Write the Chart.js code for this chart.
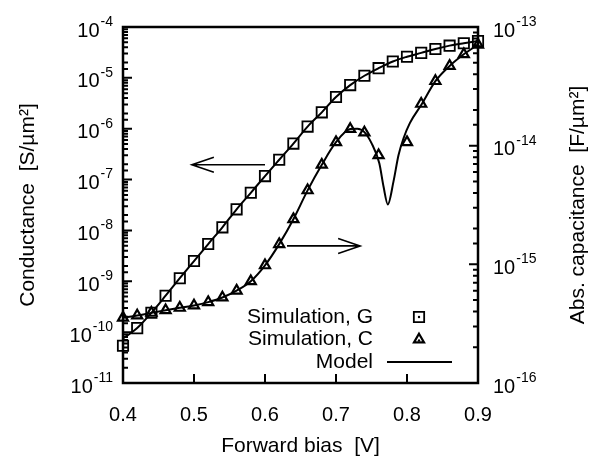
<!DOCTYPE html>
<html>
<head>
<meta charset="utf-8">
<script src="https://cdn.jsdelivr.net/npm/chart.js@4.4.1/dist/chart.umd.min.js"></script>
<style>
  body { margin: 0; background: #fff; }
  #wrap { width: 592px; height: 462px; }
</style>
</head>
<body>
<div id="wrap"><canvas id="chart" width="592" height="462"></canvas></div>
<script>
// forward bias points of the simulation (V)
const biasG = [0.40, 0.42, 0.44, 0.46, 0.48, 0.50, 0.52, 0.54, 0.56, 0.58, 0.60, 0.62, 0.64,
               0.66, 0.68, 0.70, 0.72, 0.74, 0.76, 0.78, 0.80, 0.82, 0.84, 0.86, 0.88, 0.90];
// conductance, S/um^2
const simG = [5.4e-11, 1.2e-10, 2.4e-10, 5.2e-10, 1.15e-9, 2.5e-9, 5.4e-9, 1.15e-8, 2.6e-8,
              5.5e-8, 1.17e-7, 2.45e-7, 5.1e-7, 1.1e-6, 2.1e-6, 4.2e-6, 7.2e-6, 1.1e-5,
              1.55e-5, 2.1e-5, 2.6e-5, 3.1e-5, 3.7e-5, 4.3e-5, 4.8e-5, 5.3e-5];
const modelG = [7.5e-11, 1.2e-10, 2.4e-10, 5.2e-10, 1.15e-9, 2.5e-9, 5.4e-9, 1.15e-8, 2.6e-8,
                5.5e-8, 1.17e-7, 2.45e-7, 5.1e-7, 1.1e-6, 2.1e-6, 4.2e-6, 7.2e-6, 1.1e-5,
                1.55e-5, 2.1e-5, 2.6e-5, 3.1e-5, 3.7e-5, 4.3e-5, 4.8e-5, 5.3e-5];

// capacitance (no simulated point at 0.78)
const biasC = [0.40, 0.42, 0.44, 0.46, 0.48, 0.50, 0.52, 0.54, 0.56, 0.58, 0.60, 0.62, 0.64,
               0.66, 0.68, 0.70, 0.72, 0.74, 0.76, 0.80, 0.82, 0.84, 0.86, 0.88, 0.90];
const simC = [3.55e-16, 3.7e-16, 3.9e-16, 4.1e-16, 4.3e-16, 4.5e-16, 4.8e-16, 5.25e-16, 6.0e-16,
              7.2e-16, 9.8e-16, 1.48e-15, 2.4e-15, 4.2e-15, 6.9e-15, 1.07e-14, 1.38e-14, 1.29e-14,
              8.3e-15, 1.07e-14, 2.25e-14, 3.5e-14, 4.7e-14, 5.9e-14, 7.1e-14];
const biasModelC = [0.40, 0.42, 0.44, 0.46, 0.48, 0.50, 0.52, 0.54, 0.56, 0.58, 0.60, 0.62, 0.64,
                    0.66, 0.68, 0.70, 0.72, 0.73, 0.74, 0.75, 0.761, 0.767, 0.773, 0.781, 0.788,
                    0.795, 0.804, 0.82, 0.84, 0.86, 0.88, 0.90];
const modelC = [3.55e-16, 3.7e-16, 3.9e-16, 4.1e-16, 4.3e-16, 4.5e-16, 4.8e-16, 5.25e-16, 6.0e-16,
                7.2e-16, 9.8e-16, 1.48e-15, 2.4e-15, 4.2e-15, 6.9e-15, 1.07e-14, 1.38e-14, 1.39e-14,
                1.3e-14, 1.05e-14, 7.1e-15, 4.5e-15, 3.2e-15, 5.0e-15, 8.3e-15, 1.15e-14, 1.55e-14,
                2.2e-14, 3.5e-14, 4.7e-14, 5.9e-14, 7.1e-14];

const xTicks = [0.4, 0.5, 0.6, 0.7, 0.8, 0.9];
const gDecades = [1e-11, 1e-10, 1e-9, 1e-8, 1e-7, 1e-6, 1e-5, 1e-4];
const cDecades = [1e-16, 1e-15, 1e-14, 1e-13];

// arrows telling which axis each curve belongs to (data coords)
const arrows = [
  { axis: 'yG', x0: 0.600, x1: 0.497, y: 1.95e-7 },
  { axis: 'yC', x0: 0.631, x1: 0.734, y: 1.43e-15 }
];

const FONT = "'Liberation Sans', Arial, Helvetica, sans-serif";
Chart.defaults.color = '#000';
Chart.defaults.font.family = FONT;

function isDecade(v) {
  const l = Math.log10(v);
  return Math.abs(l - Math.round(l)) < 1e-6;
}
const pts = (xs, ys) => xs.map((x, i) => ({ x: x, y: ys[i] }));

// box frame + inward tick marks
const frameTicks = {
  id: 'frameTicks',
  beforeDatasetsDraw(chart) {
    const { ctx, chartArea: a, scales } = chart;
    ctx.save();
    ctx.strokeStyle = '#000';
    ctx.lineWidth = 2.5;
    ctx.strokeRect(a.left, a.top, a.right - a.left, a.bottom - a.top);
    ctx.lineWidth = 2;
    ctx.beginPath();
    xTicks.forEach(v => {
      const px = scales.x.getPixelForValue(v);
      ctx.moveTo(px, a.bottom); ctx.lineTo(px, a.bottom - 9);
    });
    scales.yG.ticks.forEach(t => {
      const py = scales.yG.getPixelForValue(t.value);
      ctx.moveTo(a.left, py); ctx.lineTo(a.left + (isDecade(t.value) ? 9 : 5), py);
    });
    scales.yC.ticks.forEach(t => {
      const py = scales.yC.getPixelForValue(t.value);
      ctx.moveTo(a.right, py); ctx.lineTo(a.right - (isDecade(t.value) ? 9 : 5), py);
    });
    ctx.stroke();
    ctx.restore();
  }
};

// "10" with raised exponent, like the original
function powerLabel(ctx, v, x, y, side) {
  const exp = String(Math.round(Math.log10(v)));
  ctx.font = '20px ' + FONT;
  const wBase = ctx.measureText('10').width;
  ctx.font = '14px ' + FONT;
  const wExp = ctx.measureText(exp).width + 1;
  const x0 = side === 'left' ? x - wBase - wExp : x;
  ctx.textAlign = 'left';
  ctx.textBaseline = 'middle';
  ctx.font = '20px ' + FONT;
  ctx.fillText('10', x0, y + 4);
  ctx.font = '14px ' + FONT;
  ctx.fillText(exp, x0 + wBase + 1, y - 5);
}

function drawArrow(ctx, x0, x1, y) {
  const dir = Math.sign(x1 - x0);
  ctx.beginPath();
  ctx.moveTo(x0, y); ctx.lineTo(x1, y);
  ctx.moveTo(x1 - dir * 22, y - 7.5); ctx.lineTo(x1, y); ctx.lineTo(x1 - dir * 22, y + 7.5);
  ctx.stroke();
}

const extras = {
  id: 'extras',
  afterDraw(chart) {
    const { ctx, chartArea: a, scales } = chart;
    ctx.save();
    ctx.fillStyle = '#000';
    gDecades.forEach(v => powerLabel(ctx, v, a.left - 10, scales.yG.getPixelForValue(v), 'left'));
    cDecades.forEach(v => powerLabel(ctx, v, a.right + 15, scales.yC.getPixelForValue(v), 'right'));

    // right axis title reads bottom-to-top in the original
    ctx.save();
    ctx.translate(578, (a.top + a.bottom) / 2);
    ctx.rotate(-Math.PI / 2);
    ctx.font = '21px ' + FONT;
    ctx.textAlign = 'center';
    ctx.textBaseline = 'middle';
    ctx.fillText(chart.options.scales.yC.title.text, 0, 0);
    ctx.restore();

    ctx.strokeStyle = '#000';
    ctx.lineWidth = 1.6;
    arrows.forEach(ar => {
      const y = scales[ar.axis].getPixelForValue(ar.y);
      drawArrow(ctx, scales.x.getPixelForValue(ar.x0), scales.x.getPixelForValue(ar.x1), y);
    });

    // legend: text right aligned, symbol on the right
    const ds = chart.data.datasets;
    const items = [ds[0], ds[1], ds[2]];
    const textRight = a.right - 105;
    const symX = a.right - 59;
    items.forEach((d, i) => {
      const y = a.bottom - 66 + i * 22.5;
      ctx.font = '21px ' + FONT;
      ctx.fillStyle = '#000';
      ctx.textAlign = 'right';
      ctx.textBaseline = 'middle';
      ctx.fillText(d.label, textRight, y);
      if (d.showLine === false) {
        ctx.fillStyle = 'rgba(0,0,0,0)';
        ctx.strokeStyle = '#000';
        ctx.lineWidth = d.pointBorderWidth;
        Chart.helpers.drawPoint(ctx, {
          pointStyle: d.pointStyle, radius: d.pointRadius, borderWidth: d.pointBorderWidth
        }, symX, y);
        ctx.fillStyle = '#000';
        ctx.beginPath();
        ctx.arc(symX, y + (d.pointStyle === 'triangle' ? 1 : 0), 1.2, 0, Math.PI * 2);
        ctx.fill();
      } else {
        ctx.lineWidth = d.borderWidth;
        ctx.beginPath();
        ctx.moveTo(symX - 32, y); ctx.lineTo(symX + 33, y);
        ctx.stroke();
      }
    });
    ctx.restore();
  }
};

const tickFont = { family: FONT, size: 20 };
const titleFont = { family: FONT, size: 21 };

new Chart(document.getElementById('chart'), {
  type: 'line',
  data: {
    datasets: [
      {
        label: 'Simulation, G', yAxisID: 'yG', data: pts(biasG, simG),
        showLine: false, pointStyle: 'rect', pointRadius: 7.3, pointBorderWidth: 1.8,
        borderColor: '#000', backgroundColor: 'rgba(0,0,0,0)', clip: false, order: 1
      },
      {
        label: 'Simulation, C', yAxisID: 'yC', data: pts(biasC, simC),
        showLine: false, pointStyle: 'triangle', pointRadius: 5.8, pointBorderWidth: 2.2,
        borderColor: '#000', backgroundColor: 'rgba(0,0,0,0)', clip: false, order: 1
      },
      {
        label: 'Model', yAxisID: 'yG', data: pts(biasG, modelG),
        borderColor: '#000', borderWidth: 2, pointRadius: 0,
        cubicInterpolationMode: 'monotone', order: 2
      },
      {
        label: 'Model C', yAxisID: 'yC', data: pts(biasModelC, modelC),
        borderColor: '#000', borderWidth: 2, pointRadius: 0,
        cubicInterpolationMode: 'monotone', order: 2
      }
    ]
  },
  options: {
    responsive: false,
    animation: false,
    devicePixelRatio: 1,
    layout: { padding: { top: 27, left: 0, right: 0, bottom: 0 } },
    plugins: { legend: { display: false }, tooltip: { enabled: false } },
    scales: {
      x: {
        type: 'linear', position: 'bottom', min: 0.4, max: 0.9,
        afterBuildTicks: s => { s.ticks = xTicks.map(v => ({ value: v })); },
        ticks: { callback: v => Number(v).toFixed(1), font: tickFont, padding: 12, maxRotation: 0, autoSkip: false },
        grid: { display: false }, border: { display: false },
        title: { display: true, text: 'Forward bias  [V]', font: titleFont, padding: { top: 0, bottom: 3 } },
        afterFit: s => { s.height = 79; }
      },
      yG: {
        type: 'logarithmic', position: 'left', min: 1e-11, max: 1e-4,
        ticks: { callback: () => '', font: tickFont, padding: 10, autoSkip: false },
        grid: { display: false }, border: { display: false },
        title: { display: true, text: 'Conductance  [S/\u00B5m\u00B2]', font: titleFont, padding: { top: 16, bottom: 0 } },
        afterFit: s => { s.width = 123; }
      },
      yC: {
        type: 'logarithmic', position: 'right', min: 1e-16, max: 1e-13,
        ticks: { callback: () => '', font: tickFont, padding: 15, autoSkip: false },
        grid: { display: false }, border: { display: false },
        title: { display: false, text: 'Abs. capacitance  [F/\u00B5m\u00B2]', font: titleFont },
        afterFit: s => { s.width = 114; }
      }
    }
  },
  plugins: [frameTicks, extras]
});
</script>
</body>
</html>
